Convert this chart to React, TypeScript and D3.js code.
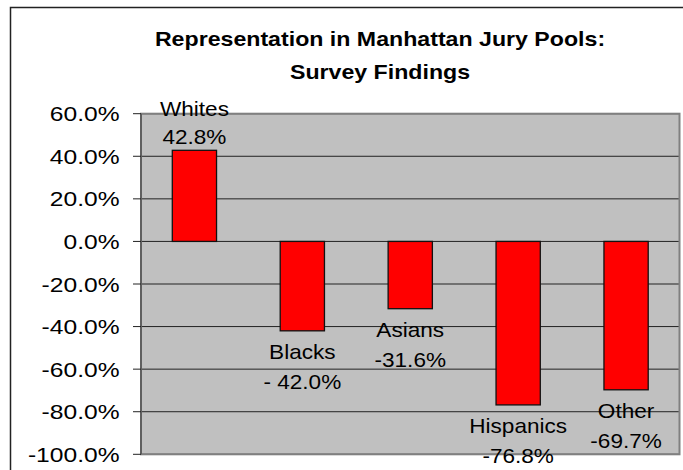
import React from 'react';
import * as d3 from 'd3';

const titleLines = ['Representation in Manhattan Jury Pools:', 'Survey Findings'];
const categories = ['Whites', 'Blacks', 'Asians', 'Hispanics', 'Other'];
const values = [42.8, -42.0, -31.6, -76.8, -69.7];
const valueLabels = ['42.8%', '- 42.0%', '-31.6%', '-76.8%', '-69.7%'];
const yTicks = [60, 40, 20, 0, -20, -40, -60, -80, -100];

const W = 683;
const H = 470;
const FONT = '"Liberation Sans", Arial, Helvetica, sans-serif';

const locale = d3.formatLocale({
  decimal: '.',
  thousands: ',',
  grouping: [3],
  currency: ['$', ''],
  minus: '-',
});
const fmt1 = locale.format('.1f');

export default function App() {
  const plotLeft = 141;
  const plotRight = 679.5;
  const plotTop = 113.7;
  const plotBottom = 454.3;

  const x = d3
    .scaleBand<string>()
    .domain(categories)
    .range([plotLeft, plotRight])
    .paddingInner(0.59)
    .paddingOuter(0.29);
  const y = d3.scaleLinear().domain([-100, 60]).range([plotBottom, plotTop]);
  const fmt = (v: number) => fmt1(v) + '%';

  return (
    <div style={{ position: 'absolute', left: 0, top: 0 }}>
      <svg width={W} height={H} style={{ display: 'block' }}>
        <rect x={0} y={0} width={W} height={H} fill="#ffffff" />
        {/* chart area border */}
        <rect x={10.5} y={7.5} width={W + 20} height={H + 20} fill="#ffffff" stroke="#222" strokeWidth={1.5} />

        {/* title */}
        {titleLines.map((t, i) => (
          <text
            key={i}
            transform={`translate(380,${46 + i * 32.5}) scale(1.13,1)`}
            textAnchor="middle"
            fontFamily={FONT}
            fontWeight="bold"
            fontSize={20.5}
            fill="#000"
          >
            {t}
          </text>
        ))}

        {/* plot area */}
        <rect
          x={plotLeft}
          y={plotTop}
          width={plotRight - plotLeft}
          height={plotBottom - plotTop}
          fill="#C0C0C0"
        />
        {yTicks.map((t) => (
          <line
            key={'g' + t}
            x1={plotLeft}
            x2={plotRight}
            y1={y(t)}
            y2={y(t)}
            stroke="#222"
            strokeWidth={1}
          />
        ))}
        <rect
          x={plotLeft}
          y={plotTop}
          width={plotRight - plotLeft}
          height={plotBottom - plotTop}
          fill="none"
          stroke="#808080"
          strokeWidth={2}
        />

        {/* y axis */}
        <line x1={plotLeft} x2={plotLeft} y1={plotTop} y2={plotBottom} stroke="#555" strokeWidth={1.5} />
        {yTicks.map((t) => (
          <g key={'t' + t}>
            <line x1={plotLeft - 8} x2={plotLeft} y1={y(t)} y2={y(t)} stroke="#222" strokeWidth={1} />
            <text
              transform={`translate(119.5,${y(t) + 7.5}) scale(1.2,1)`}
              textAnchor="end"
              fontFamily={FONT}
              fontSize={20.5}
              fill="#000"
            >
              {fmt(t)}
            </text>
          </g>
        ))}

        {/* bars */}
        {categories.map((c, i) => {
          const v = values[i];
          const y0 = y(0);
          const y1 = y(v);
          return (
            <rect
              key={'b' + c}
              x={x(c)!}
              y={Math.min(y0, y1)}
              width={x.bandwidth()}
              height={Math.abs(y1 - y0)}
              fill="#FF0000"
              stroke="#111"
              strokeWidth={1.3}
            />
          );
        })}

        {/* data labels */}
        {categories.map((c, i) => {
          const v = values[i];
          const cx = x(c)! + x.bandwidth() / 2;
          const end = y(v);
          const b1 = v >= 0 ? end - 34 : end + 28;
          const b2 = v >= 0 ? end - 6 : end + 58;
          return (
            <g key={'l' + c} fontFamily={FONT} fontSize={20} fill="#000">
              <text transform={`translate(${cx},${b1}) scale(1.13,1)`} textAnchor="middle">
                {c}
              </text>
              <text transform={`translate(${cx},${b2}) scale(1.13,1)`} textAnchor="middle">
                {valueLabels[i]}
              </text>
            </g>
          );
        })}
      </svg>
    </div>
  );
}
